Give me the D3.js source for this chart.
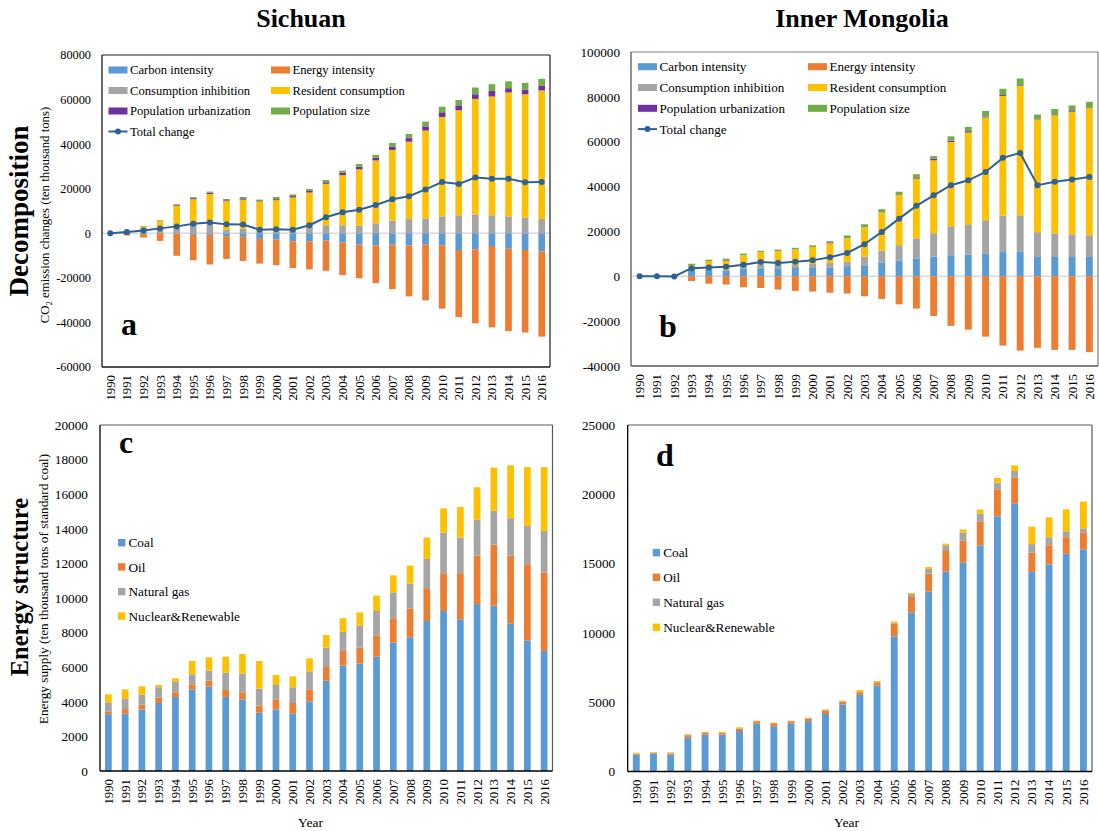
<!DOCTYPE html>
<html>
<head>
<meta charset="utf-8">
<script src="https://cdn.jsdelivr.net/npm/d3@7/dist/d3.min.js"></script>
<style>
  html, body { margin: 0; padding: 0; background: #ffffff; }
  svg { display: block; font-family: "Liberation Serif", "Times New Roman", serif; }
</style>
</head>
<body>
<svg id="chart" width="1099" height="831"></svg>
<script>
// ---- Categories and tick labels ----
const years = ["1990","1991","1992","1993","1994","1995","1996","1997","1998","1999","2000","2001","2002",
  "2003","2004","2005","2006","2007","2008","2009","2010","2011","2012","2013","2014","2015","2016"];
const ticksDecompSC = [-60000, -40000, -20000, 0, 20000, 40000, 60000, 80000];
const ticksDecompIM = [-40000, -20000, 0, 20000, 40000, 60000, 80000, 100000];
const ticksEnergySC = [0, 2000, 4000, 6000, 8000, 10000, 12000, 14000, 16000, 18000, 20000];
const ticksEnergyIM = [0, 5000, 10000, 15000, 20000, 25000];

// ---- Decomposition of CO2 emission changes, Sichuan (ten thousand tons) ----
const scCarbon   = [0, 0, -300, 0, -200, -700, -700, -1300, -1600, -2500, -2800, -3600, -3600, -3300, -4200, -5100, -5400, -5100, -5400, -5100, -5400, -7500, -7200, -5700, -6900, -7500, -8100];
const scEnergy   = [0, -1000, -1600, -3400, -9900, -11400, -13300, -10200, -10800, -11100, -11500, -12000, -12600, -13500, -14500, -15100, -16900, -20000, -22900, -25000, -28400, -30100, -33200, -36500, -37000, -37000, -38300];
const scInhibit  = [0, 200, 600, 1200, 2200, 3700, 4000, 1500, 2000, 700, 800, 900, 3200, 3600, 3600, 3400, 4500, 5700, 6400, 6700, 7600, 8100, 8400, 8100, 7600, 7000, 6400];
const scResident = [0, 500, 2400, 4200, 10200, 11600, 13650, 12900, 13100, 13500, 14050, 15200, 15100, 18600, 22500, 25300, 28200, 31700, 34700, 39400, 44600, 47100, 51900, 53300, 55600, 55400, 57700];
const scUrban    = [0, 0, 0, 0, 300, 450, 600, 400, 600, 200, 450, 600, 700, 700, 1000, 1200, 1200, 1500, 1600, 1900, 2100, 2200, 2100, 2500, 1900, 2100, 2200];
const scPopSize  = [0, 200, 300, 400, 300, 450, 450, 600, 600, 700, 1000, 700, 900, 1000, 1000, 1200, 1300, 1600, 1900, 2100, 2500, 2400, 3000, 3000, 3100, 3000, 3000];
const scTotal    = [0, 600, 1200, 2200, 3100, 4300, 4800, 4000, 3900, 1600, 1800, 1600, 3600, 7200, 9400, 10600, 12700, 15300, 16600, 19700, 23000, 22100, 25000, 24500, 24500, 22900, 23000];

// ---- Decomposition of CO2 emission changes, Inner Mongolia (ten thousand tons) ----
const imCarbon   = [0, 0, 0, 3300, 3000, 2400, 3300, 3600, 3600, 3700, 3700, 4000, 4500, 4900, 6200, 7100, 8000, 8800, 9400, 9700, 10000, 10800, 11100, 8600, 8600, 8600, 8600];
const imEnergy   = [0, 0, -400, -2100, -3300, -3700, -4900, -5200, -5900, -6500, -6800, -7300, -7700, -8900, -10100, -12500, -14400, -17700, -22100, -23800, -26900, -30900, -33100, -31900, -32800, -32800, -33800];
const imInhibit  = [0, 0, 0, 200, 600, 600, 1600, 1500, 1500, 1300, 1800, 1900, 1900, 3900, 5300, 6800, 8900, 10400, 12900, 13500, 15000, 16300, 16100, 11100, 10500, 10100, 9700];
const imResident = [0, 0, 0, 1500, 3100, 4000, 4500, 5800, 6100, 7000, 7600, 8800, 10600, 13100, 16900, 22300, 26500, 32500, 37600, 40900, 45800, 53300, 57700, 50000, 52700, 54700, 56700];
const imUrban    = [0, 0, 0, 0, 0, 400, 0, 0, 0, 0, 0, 400, 0, 0, 0, 0, 300, 700, 600, 600, 400, 400, 300, 200, 400, 600, 300];
const imPopSize  = [0, 0, 0, 600, 700, 500, 700, 500, 700, 700, 700, 600, 1200, 1300, 1500, 1500, 1800, 1200, 1900, 1900, 2500, 2800, 3000, 2200, 2400, 2200, 2500];
const imTotal    = [0, 0, -100, 3600, 3900, 4200, 5100, 6400, 5900, 6500, 7100, 8500, 10400, 14300, 19800, 25700, 31400, 36100, 40600, 42800, 46500, 52800, 55000, 40600, 42100, 43200, 44300];

// ---- Energy supply structure (ten thousand tons of standard coal) ----
const scCoal    = [3280, 3310, 3560, 3930, 4280, 4720, 4880, 4280, 4140, 3370, 3560, 3310, 4030, 5220, 6090, 6210, 6610, 7420, 7730, 8670, 9250, 8770, 9650, 9560, 8540, 7550, 6940];
const scOil     = [170, 270, 270, 310, 270, 290, 340, 400, 410, 410, 580, 620, 690, 790, 850, 920, 1230, 1370, 1650, 1850, 2180, 2660, 2800, 3520, 3910, 4400, 4530];
const scGas     = [520, 600, 580, 600, 610, 580, 580, 1000, 1080, 980, 830, 910, 1040, 1120, 1100, 1270, 1410, 1540, 1450, 1740, 2350, 2060, 2080, 1970, 2160, 2210, 2400];
const scNuclear = [460, 540, 480, 130, 200, 770, 770, 930, 1130, 1600, 580, 630, 750, 730, 790, 770, 890, 980, 1040, 1230, 1400, 1770, 1870, 2490, 3060, 3410, 3700];

const imCoal    = [1210, 1290, 1210, 2460, 2660, 2660, 2920, 3450, 3260, 3450, 3640, 4150, 4820, 5520, 6190, 9750, 11480, 13000, 14440, 15070, 16320, 18410, 19350, 14400, 14950, 15710, 16030];
const imOil     = [70, 70, 100, 150, 140, 120, 150, 170, 220, 170, 190, 240, 220, 140, 190, 940, 1110, 1270, 1470, 1580, 1730, 1950, 1870, 1390, 1370, 1190, 1230];
const imGas     = [20, 10, 20, 50, 30, 30, 50, 20, 20, 30, 20, 50, 40, 80, 70, 50, 210, 340, 410, 580, 550, 480, 460, 620, 580, 430, 290];
const imNuclear = [60, 40, 50, 50, 40, 60, 70, 30, 20, 20, 30, 40, 30, 140, 80, 90, 80, 140, 120, 240, 290, 340, 410, 1250, 1440, 1590, 1920];

// ---- Series names and colours ----
const decompNames  = ["Carbon intensity", "Energy intensity", "Consumption inhibition", "Resident consumption", "Population urbanization", "Population size"];
const decompColors = ["#5b9bd5", "#ed7d31", "#a5a5a5", "#ffc000", "#7030a0", "#70ad47"];
const totalName = "Total change";
const totalColor = "#2b6399";
const energyNames  = ["Coal", "Oil", "Natural gas", "Nuclear&Renewable"];
const energyColors = ["#5b9bd5", "#ed7d31", "#a5a5a5", "#ffc000"];

const svg = d3.select("#chart");
svg.append("rect").attr("width", 1099).attr("height", 831).attr("fill", "#fff");

const fmt = v => String(v);

function makeRows(series) {
  return years.map((yr, i) => {
    const r = { year: yr };
    series.forEach((s, k) => { r["k" + k] = s[i]; });
    return r;
  });
}

// Stacked bar panel; diverging stack puts positives above zero and negatives below, in series order
function drawPanel(cfg) {
  const g = svg.append("g");
  const x = d3.scaleBand().domain(years).range([cfg.left, cfg.right]).paddingInner(0.6).paddingOuter(0.3);
  const y = d3.scaleLinear().domain(cfg.domain).range([cfg.bottom, cfg.top]);
  const keys = cfg.series.map((s, k) => "k" + k);
  const stacked = d3.stack().keys(keys).offset(d3.stackOffsetDiverging)(makeRows(cfg.series));

  if (cfg.zeroLine) {
    g.append("line").attr("x1", cfg.left).attr("x2", cfg.right)
      .attr("y1", y(0)).attr("y2", y(0))
      .attr("stroke", "#d9d9d9").attr("stroke-width", 1.5);
  }

  g.selectAll("g.layer").data(stacked).join("g").attr("class", "layer")
    .attr("fill", (d, i) => cfg.colors[i])
    .selectAll("rect").data(d => d).join("rect")
    .attr("x", d => x(d.data.year))
    .attr("width", x.bandwidth())
    .attr("y", d => y(Math.max(d[0], d[1])))
    .attr("height", d => Math.abs(y(d[0]) - y(d[1])));

  if (cfg.total) {
    const line = d3.line().x((d, i) => x(years[i]) + x.bandwidth() / 2).y(d => y(d));
    g.append("path").datum(cfg.total).attr("d", line)
      .attr("fill", "none").attr("stroke", totalColor).attr("stroke-width", 2);
    g.selectAll("circle.pt").data(cfg.total).join("circle").attr("class", "pt")
      .attr("cx", (d, i) => x(years[i]) + x.bandwidth() / 2)
      .attr("cy", d => y(d)).attr("r", 3).attr("fill", totalColor);
  }

  // Frame of the plot area
  g.append("line").attr("x1", cfg.left).attr("x2", cfg.right).attr("y1", cfg.top).attr("y2", cfg.top)
    .attr("stroke", cfg.frameColor).attr("stroke-width", 1.2);
  g.append("line").attr("x1", cfg.right).attr("x2", cfg.right).attr("y1", cfg.top).attr("y2", cfg.bottom)
    .attr("stroke", cfg.frameColor).attr("stroke-width", 1.2);
  g.append("line").attr("x1", cfg.left).attr("x2", cfg.left).attr("y1", cfg.top).attr("y2", cfg.bottom)
    .attr("stroke", cfg.axisColor).attr("stroke-width", 1.3);
  g.append("line").attr("x1", cfg.left).attr("x2", cfg.right).attr("y1", cfg.bottom).attr("y2", cfg.bottom)
    .attr("stroke", cfg.axisColor).attr("stroke-width", 1.6);

  // Value axis
  const ya = g.append("g").attr("transform", `translate(${cfg.left},0)`)
    .call(d3.axisLeft(y).tickValues(cfg.ticks).tickFormat(fmt).tickSize(0).tickPadding(cfg.tickPad));
  ya.select(".domain").remove();
  ya.selectAll("text").attr("font-family", "Liberation Serif, Times New Roman, serif")
    .attr("font-size", cfg.tickFont).attr("fill", "#000");

  // Category axis with vertical year labels
  const xa = g.append("g").attr("transform", `translate(0,${cfg.bottom})`)
    .call(d3.axisBottom(x).tickSize(0));
  xa.select(".domain").remove();
  xa.selectAll("text")
    .attr("font-family", "Liberation Serif, Times New Roman, serif")
    .attr("font-size", 12.8).attr("fill", "#000")
    .attr("transform", "rotate(-90)")
    .attr("text-anchor", "end")
    .attr("x", -8).attr("y", 0).attr("dy", "0.35em");

  // Panel letter
  g.append("text").attr("x", cfg.letterX).attr("y", cfg.letterY)
    .attr("font-size", 32).attr("font-weight", "bold").text(cfg.letter);
}

function drawDecompLegend(x1, x2, y0, dy, fs) {
  const g = svg.append("g").attr("font-size", fs);
  const cols = [[0, 2, 4], [1, 3, 5]];
  cols.forEach((col, c) => {
    const sx = c === 0 ? x1 : x2;
    col.forEach((idx, r) => {
      const cy = y0 + r * dy;
      g.append("rect").attr("x", sx).attr("y", cy - 3.5).attr("width", 19).attr("height", 7)
        .attr("fill", decompColors[idx]);
      g.append("text").attr("x", sx + 21.5).attr("y", cy).attr("dy", "0.35em").text(decompNames[idx]);
    });
  });
  const cy = y0 + 3 * dy;
  g.append("line").attr("x1", x1).attr("x2", x1 + 19).attr("y1", cy).attr("y2", cy)
    .attr("stroke", totalColor).attr("stroke-width", 2);
  g.append("circle").attr("cx", x1 + 9.5).attr("cy", cy).attr("r", 3).attr("fill", totalColor);
  g.append("text").attr("x", x1 + 21.5).attr("y", cy).attr("dy", "0.35em").text(totalName);
}

function drawEnergyLegend(x, ys, fs) {
  const g = svg.append("g").attr("font-size", fs);
  energyNames.forEach((n, i) => {
    g.append("rect").attr("x", x).attr("y", ys[i] - 3.7).attr("width", 7.4).attr("height", 7.4)
      .attr("fill", energyColors[i]);
    g.append("text").attr("x", x + 10.5).attr("y", ys[i]).attr("dy", "0.35em").text(n);
  });
}

// a: Sichuan decomposition
drawPanel({
  left: 102, right: 550, top: 55, bottom: 367, domain: [-60000, 80000], ticks: ticksDecompSC,
  series: [scCarbon, scEnergy, scInhibit, scResident, scUrban, scPopSize], colors: decompColors,
  total: scTotal, zeroLine: true, frameColor: "#1a1a1a", axisColor: "#1a1a1a",
  tickPad: 11, tickFont: 12.3, letter: "a", letterX: 121, letterY: 335
});
drawDecompLegend(108.5, 271, 70, 20.5, 12.6);

// b: Inner Mongolia decomposition
drawPanel({
  left: 631, right: 1098, top: 52, bottom: 366, domain: [-40000, 100000], ticks: ticksDecompIM,
  series: [imCarbon, imEnergy, imInhibit, imResident, imUrban, imPopSize], colors: decompColors,
  total: imTotal, zeroLine: true, frameColor: "#7f7f7f", axisColor: "#595959",
  tickPad: 11, tickFont: 13.2, letter: "b", letterX: 659, letterY: 337
});
drawDecompLegend(638, 808, 66.7, 20.8, 13.1);

// c: Sichuan energy structure
drawPanel({
  left: 100, right: 552.5, top: 425, bottom: 771, domain: [0, 20000], ticks: ticksEnergySC,
  series: [scCoal, scOil, scGas, scNuclear], colors: energyColors,
  total: null, zeroLine: false, frameColor: "#595959", axisColor: "#000",
  tickPad: 12, tickFont: 13.3, letter: "c", letterX: 119, letterY: 453
});
drawEnergyLegend(118, [542.7, 566.9, 591.6, 616.1], 13.3);

// d: Inner Mongolia energy structure
drawPanel({
  left: 627.7, right: 1092, top: 425, bottom: 771.5, domain: [0, 25000], ticks: ticksEnergyIM,
  series: [imCoal, imOil, imGas, imNuclear], colors: energyColors,
  total: null, zeroLine: false, frameColor: "#595959", axisColor: "#000",
  tickPad: 12.5, tickFont: 13.3, letter: "d", letterX: 656, letterY: 466
});
drawEnergyLegend(652.7, [552.7, 577.3, 602.3, 627.3], 13.3);

// Column titles
svg.append("text").attr("x", 301).attr("y", 27).attr("text-anchor", "middle")
  .attr("font-size", 26).attr("font-weight", "bold").text("Sichuan");
svg.append("text").attr("x", 862).attr("y", 27).attr("text-anchor", "middle")
  .attr("font-size", 26).attr("font-weight", "bold").text("Inner Mongolia");

// Row titles
svg.append("text").attr("transform", "translate(28,211) rotate(-90)").attr("text-anchor", "middle")
  .attr("font-size", 27).attr("font-weight", "bold").text("Decomposition");
svg.append("text").attr("transform", "translate(28,587) rotate(-90)").attr("text-anchor", "middle")
  .attr("font-size", 24.5).attr("font-weight", "bold").text("Energy structure");

// Axis titles
const co2 = svg.append("text").attr("transform", "translate(49,215) rotate(-90)")
  .attr("text-anchor", "middle").attr("font-size", 12.8);
co2.append("tspan").text("CO");
co2.append("tspan").attr("font-size", 8.5).attr("dy", 3).text("2");
co2.append("tspan").attr("dy", -3).text(" emission changes (ten thousand tons)");

svg.append("text").attr("transform", "translate(48,589) rotate(-90)").attr("text-anchor", "middle")
  .attr("font-size", 13.3).text("Energy supply (ten thousand tons of standard coal)");

svg.append("text").attr("x", 310.5).attr("y", 827).attr("text-anchor", "middle")
  .attr("font-size", 13.5).text("Year");
svg.append("text").attr("x", 846.5).attr("y", 827).attr("text-anchor", "middle")
  .attr("font-size", 13.5).text("Year");
</script>
</body>
</html>
